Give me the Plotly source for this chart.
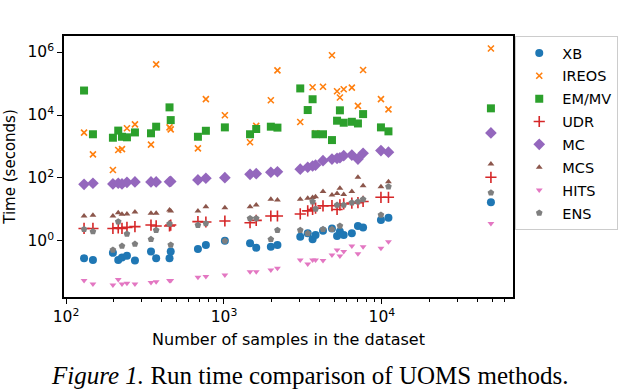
import plotly.graph_objects as go

# dataset sizes (number of samples), one entry per benchmark dataset
n_samples = [130, 148, 198, 214, 226, 243, 273, 345, 372, 452, 460, 684, 768,
             1013, 1462, 1600, 1980, 2180, 3040, 3390, 3640, 3800, 4236, 4828,
             5200, 5420, 5730, 6450, 7050, 7600, 9860, 11000, 49000]

# run time in seconds, per method, aligned with n_samples
t_xb = [0.28, 0.25, 0.42, 0.25, 0.30, 0.34, 0.24, 0.46, 0.28, 0.28, 0.46, 0.56, 0.75,
        1.02, 0.85, 0.61, 0.66, 0.75, 1.37, 1.75, 1.13, 1.55, 2.1, 2.5,
        1.44, 2.0, 1.55, 1.75, 3.0, 2.7, 4.6, 5.5, 17]
t_ireos = [2750, 565, 180, 776, 830, 3800, 5050, 1150, 407000, 4050, 3500, 870, 32000,
           9800, 1370, 4500, 29500, 263000, 6000, 15000, 76000, 2600, 79000, 790000,
           57000, 36000, 66000, 74000, 19600, 270000, 32000, 15100, 1300000]
t_emmv = [60000, 2450, 1900, 3200, 2040, 1960, 2800, 2630, 4260, 17500, 6900, 2040, 3160,
          4050, 2450, 3600, 4260, 3980, 70000, 14400, 31700, 2450, 2450, 1600,
          6600, 14100, 5700, 6100, 5400, 10700, 4050, 3030, 16300]
t_udr = [2.5, 2.5, 2.5, 2.6, 2.5, 2.7, 2.85, 3.2, 3.0, 3.0, 3.2, 4.1, 4.0,
         4.3, 3.8, 4.5, 6.2, 6.2, 7.2, 9.0, 10, 11, 13, 13.2,
         10, 14, 15, 16, 16.5, 18, 24.4, 24.4, 105]
t_mc = [63, 68, 65, 68, 65, 73, 75, 75, 75, 76, 78, 87, 98,
        102, 131, 137, 152, 158, 190, 219, 240, 258, 354, 400,
        420, 440, 510, 535, 400, 610, 740, 660, 2700]
t_mcs = [6.2, 6.5, 6.2, 7.9, 7.0, 7.2, 8.3, 7.6, 7.6, 9.6, 9.0, 9.0, 12.3,
         11.4, 12.3, 13.9, 21, 20, 21, 22.6, 24, 25.5, 37, 29,
         32, 47, 30, 37, 105, 57, 53, 76, 277]
t_hits = [0.055, 0.043, 0.040, 0.060, 0.043, 0.045, 0.043, 0.048, 0.051, 0.055, 0.055, 0.070, 0.074,
          0.083, 0.106, 0.106, 0.12, 0.135, 0.25, 0.186, 0.25, 0.25, 0.24, 0.36,
          0.52, 0.33, 0.46, 0.69, 0.39, 0.66, 0.59, 0.95, 3.6]
t_ens = [2.35, 2.0, 0.52, 4.1, 0.69, 1.67, 0.80, 1.13, 2.2, 3.5, 0.75, 3.2, 3.6,
         1.0, 5.2, 5.2, 1.13, 2.2, 2.2, 1.75, 17.7, 10.4, 2.35, 2.35,
         13.9, 3.0, 13.9, 16.5, 17.7, 21, 6.7, 53, 34]

methods = ["XB", "IREOS", "EM/MV", "UDR", "MC", "MCS", "HITS", "ENS"]
times = [t_xb, t_ireos, t_emmv, t_udr, t_mc, t_mcs, t_hits, t_ens]

# matplotlib-ish look per method: colour, plotly symbol, size
styles = {
    "XB": ("#1f77b4", "circle", 8),
    "IREOS": ("#ff7f0e", "x-thin", 6),
    "EM/MV": ("#2ca02c", "square", 8),
    "UDR": ("#d62728", "cross-thin", 8),
    "MC": ("#9467bd", "diamond", 9),
    "MCS": ("#8c564b", "triangle-up", 6),
    "HITS": ("#e377c2", "triangle-down", 6),
    "ENS": ("#7f7f7f", "pentagon", 7),
}

fig = go.Figure()
for name, t in zip(methods, times):
    color, symbol, size = styles[name]
    thin = symbol.endswith("-thin")
    fig.add_trace(go.Scatter(
        x=n_samples, y=t, mode="markers", name=name, legendgroup=name,
        marker=dict(symbol=symbol, size=size, color=color,
                    line=dict(color=color, width=1.6 if thin else 0)),
    ))

font = "DejaVu Sans"
axis_common = dict(type="log", showline=True, linecolor="black", linewidth=1.5,
                   mirror=True, ticks="outside", ticklen=5, tickcolor="black",
                   showgrid=False, zeroline=False, automargin=False,
                   tickfont=dict(family=font, size=15.5, color="black"))

minor_x = [m * 10 ** e for e in (2, 3, 4) for m in range(2, 10)]
fig.update_xaxes(**axis_common, range=[1.987, 4.83],
                 tickvals=[100, 1000, 10000],
                 ticktext=["10<sup>2</sup>", "10<sup>3</sup>", "10<sup>4</sup>"],
                 minor=dict(ticks="outside", ticklen=3, tickcolor="black",
                            tickvals=minor_x),
                 title=dict(text="Number of samples in the dataset",
                            font=dict(family=font, size=16, color="black"),
                            standoff=8))
fig.update_yaxes(**axis_common, range=[-1.78, 6.51],
                 tickvals=[1, 100, 10000, 1000000],
                 ticktext=["10<sup>0</sup>", "10<sup>2</sup>", "10<sup>4</sup>", "10<sup>6</sup>"],
                 title=dict(text="Time (seconds)",
                            font=dict(family=font, size=15, color="black"),
                            standoff=8))

fig.add_annotation(text="<i>Figure 1.</i> Run time comparison of UOMS methods.",
                   xref="paper", yref="paper", x=0.546, y=-0.30,
                   xanchor="center", yanchor="middle", showarrow=False,
                   font=dict(family="Liberation Serif", size=25, color="black"))

fig.update_layout(
    width=630, height=390,
    margin=dict(l=64, r=117, t=36, b=93),
    plot_bgcolor="white", paper_bgcolor="white",
    legend=dict(x=1.005, y=1, xanchor="left", yanchor="top",
                bordercolor="#cccccc", borderwidth=1, itemwidth=36,
                tracegroupgap=1,
                font=dict(family=font, size=14.5, color="black")),
)

# drop the browser's default 8px body margin so the figure sits at the page corner
fig.write_html("out.html", config={"displayModeBar": False},
               post_script="document.body.style.margin='0px';")
